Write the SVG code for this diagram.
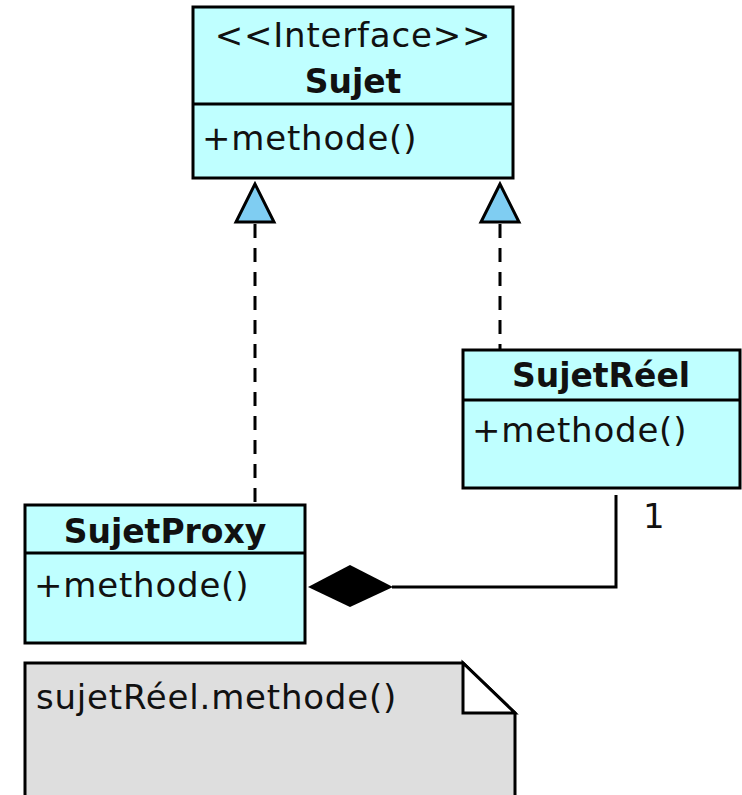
<svg xmlns="http://www.w3.org/2000/svg" width="742" height="795" viewBox="0 0 742 795">
<style>
.box{fill:#bfffff;stroke:#000;stroke-width:3}
.sep{stroke:#000;stroke-width:3}
.t{font-family:"DejaVu Sans",sans-serif;font-size:34px;fill:#111}
.r{letter-spacing:0.8px}
.b{font-weight:bold;text-anchor:middle;font-size:33px}
.dash{stroke:#000;stroke-width:3;stroke-dasharray:14 10;fill:none}
.tri{fill:#7fcdf2;stroke:#000;stroke-width:3;stroke-linejoin:miter}
.line{stroke:#000;stroke-width:3;fill:none}
</style>
<g id="connectors">
<path class="dash" d="M255 224 V504"/>
<path class="dash" d="M500 224 V349"/>
<polygon class="tri" points="255,184 236,222 274,222"/>
<polygon class="tri" points="500,184 481,222 519,222"/>
<path class="line" d="M616 495 V587 H392"/>
<polygon points="308,587 350,565 393,587 350,607" fill="#000"/>
<text class="t r" x="643" y="528">1</text>
</g>
<g id="Sujet">
<rect class="box" x="193" y="7" width="320" height="171"/>
<line class="sep" x1="193" y1="104" x2="513" y2="104"/>
<text class="t r" x="353" y="47" text-anchor="middle">&lt;&lt;Interface&gt;&gt;</text>
<text class="t b" x="353" y="93">Sujet</text>
<text class="t r" x="202" y="150">+methode()</text>
</g>
<g id="SujetReel">
<rect class="box" x="463" y="350" width="277" height="138"/>
<line class="sep" x1="463" y1="400" x2="740" y2="400"/>
<text class="t b" x="601" y="387">SujetRéel</text>
<text class="t r" x="472" y="442">+methode()</text>
</g>
<g id="SujetProxy">
<rect class="box" x="25" y="505" width="280" height="138"/>
<line class="sep" x1="25" y1="553" x2="305" y2="553"/>
<text class="t b" x="165" y="543">SujetProxy</text>
<text class="t r" x="34" y="597">+methode()</text>
</g>
<g id="note">
<path d="M25 800 V663 H463 L515 713 V800" fill="#dedede" stroke="#000" stroke-width="3"/>
<path d="M463 663 V713 H515 Z" fill="#fff" stroke="#000" stroke-width="3" stroke-linejoin="miter"/>
<text class="t r" x="36" y="709">sujetRéel.methode()</text>
</g>
</svg>
